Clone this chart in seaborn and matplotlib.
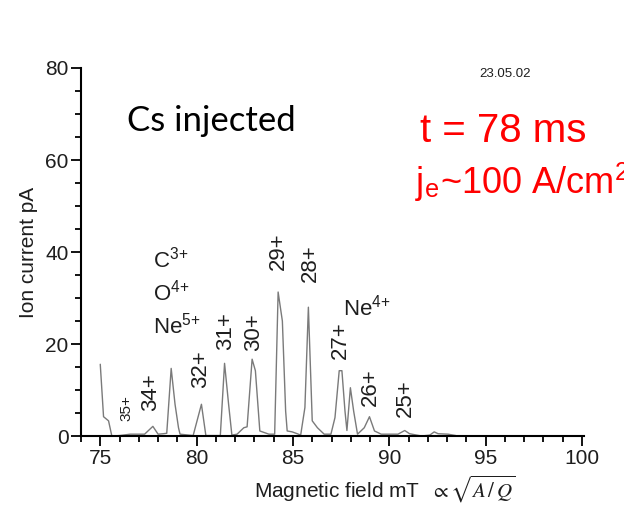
import matplotlib
matplotlib.use("Agg")
import pandas as pd
import seaborn as sns
import matplotlib.pyplot as plt
import matplotlib.ticker as ticker

# spectrum: magnetic field (mT) vs ion current (pA)
field_mT = [75.0, 75.17, 75.43, 75.6, 76.0, 76.55, 77.3, 77.73, 78.0, 78.28,
            78.45, 78.68, 78.88, 79.06, 79.14, 79.82, 80.25, 80.48, 81.23, 81.45,
            81.66, 81.83, 82.1, 82.45, 82.62, 82.88, 83.05, 83.28, 83.75, 84.05,
            84.23, 84.45, 84.62, 84.7, 84.96, 85.22, 85.4, 85.62, 85.8, 86.0,
            86.27, 86.62, 86.97, 87.18, 87.4, 87.54, 87.7, 87.8, 87.98, 88.15,
            88.35, 88.7, 88.97, 89.23, 89.58, 90.45, 90.8, 91.05, 91.67, 92.1,
            92.33, 92.53, 93.05, 93.45]
current_pA = [15.6, 4.2, 3.3, 0.0, 0.1, 0.4, 0.4, 2.1, 0.4, 0.5,
              0.6, 14.7, 6.9, 1.8, 0.4, 0.1, 6.9, 0.1, 0.1, 15.8,
              6.9, 0.2, 0.4, 1.8, 2.0, 16.7, 14.2, 1.1, 0.4, 0.4,
              31.3, 25.0, 5.4, 1.1, 0.9, 0.5, 0.2, 6.2, 28.0, 3.3,
              1.8, 0.4, 0.4, 4.0, 14.2, 14.2, 5.4, 1.2, 10.5, 5.4,
              0.4, 1.8, 4.2, 1.1, 0.4, 0.4, 1.2, 0.5, 0.0, 0.2,
              0.9, 0.5, 0.4, 0.1]

# Cs charge state labels (rotated)
cs_labels = ["35+", "34+", "32+", "31+", "30+", "29+", "28+", "27+", "26+", "25+"]
cs_x = [76.36, 77.6, 80.19, 81.49, 82.95, 84.25, 85.88, 87.44, 89.0, 90.82]
cs_y = [6.0, 9.5, 14.6, 22.9, 22.5, 40.1, 37.5, 20.9, 10.7, 8.2]

# light ion labels
ion_labels = [r"C$^{\mathregular{3{+}}}$", r"O$^{\mathregular{4{+}}}$",
              r"Ne$^{\mathregular{5{+}}}$", r"Ne$^{\mathregular{4{+}}}$"]
ion_x = [77.73, 77.73, 77.73, 87.6]
ion_y = [36.6, 29.4, 22.2, 26.2]

sns.set_theme(style="ticks")
plt.rcParams['font.family'] = ['Liberation Sans', 'DejaVu Sans']
plt.rcParams['mathtext.fontset'] = 'stix'

dark = "#1e1e1e"

fig = plt.figure(figsize=(6.24, 5.12), dpi=100)
ax = fig.add_axes([0.1298, 0.1484, 0.806, 0.7188])

df = pd.DataFrame({"field": field_mT, "current": current_pA})
sns.lineplot(data=df, x="field", y="current", estimator=None, sort=False,
             color="#7a7a7a", linewidth=1.0, ax=ax)

ax.set_xlim(74, 100.1)
ax.set_ylim(0, 80)
ax.xaxis.set_major_locator(ticker.MultipleLocator(5))
ax.xaxis.set_minor_locator(ticker.MultipleLocator(1))
ax.yaxis.set_major_locator(ticker.MultipleLocator(20))
ax.yaxis.set_minor_locator(ticker.MultipleLocator(5))
ax.tick_params(which="major", direction="out", length=7, width=1.3,
               labelsize=15, pad=2, colors="black", labelcolor=dark)
ax.tick_params(which="minor", direction="out", length=4, width=1.3, colors="black")

sns.despine(ax=ax)
for s in ["left", "bottom"]:
    ax.spines[s].set_linewidth(1.5)
    ax.spines[s].set_color("black")

ax.set_ylabel("Ion current pA", fontsize=15, color=dark)
ax.yaxis.set_label_coords(-0.086, 0.5)
ax.set_xlabel(r"Magnetic field mT  $\propto\sqrt{A\,/\,Q}$", fontsize=15, color=dark)
ax.xaxis.set_label_coords(0.604, -0.103)

for lab, x, y in zip(cs_labels, cs_x, cs_y):
    fs = 11 if lab == "35+" else 16
    ax.text(x, y, lab, rotation=90, ha="center", va="center", fontsize=fs, color=dark)

for lab, x, y in zip(ion_labels, ion_x, ion_y):
    ax.text(x, y, lab, ha="left", va="baseline", fontsize=16, color=dark)

fig.text(0.2035, 0.744, "Cs injected", fontsize=25, family=["Lato", "DejaVu Sans"],
         color="black", ha="left", va="baseline")
fig.text(0.809, 0.85, "23.05.02", fontsize=9.5, color=dark, ha="center", va="baseline")
fig.text(0.673, 0.7227, "t = 78 ms", fontsize=29, color="red", ha="left", va="baseline")
# the reference scan cuts this line off at the right edge
fig.text(0.665, 0.623, r"j$_{\mathregular{e}}$~100 A/cm$^{\mathregular{2}}$", fontsize=26,
         color="red", ha="left", va="baseline")

fig.savefig("out.png", dpi=100)
plt.close(fig)
